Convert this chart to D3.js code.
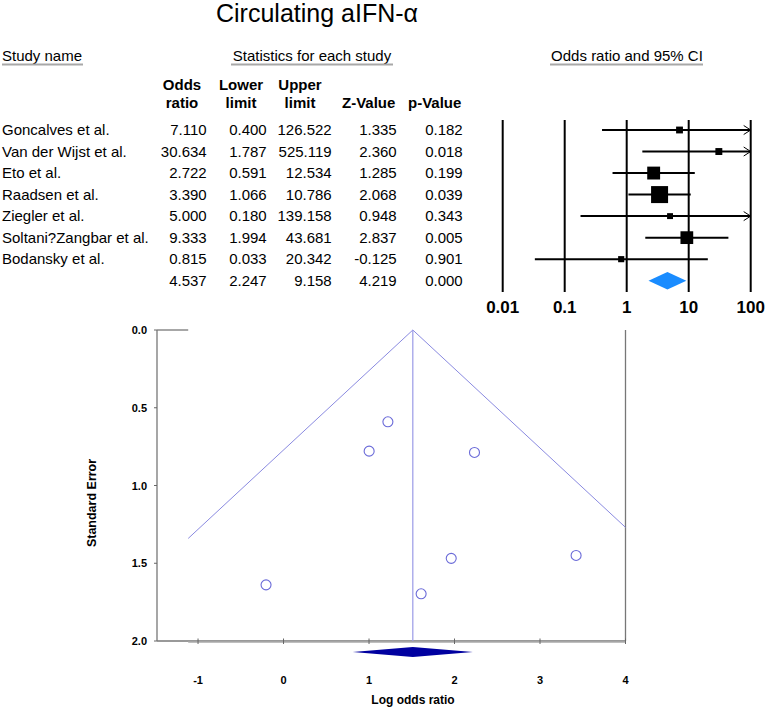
<!DOCTYPE html>
<html>
<head>
<meta charset="utf-8">
<script src="https://cdn.jsdelivr.net/npm/d3@7"></script>
<style>
  html, body { margin: 0; padding: 0; background: #fff; }
  svg { display: block; font-family: Arial, "Liberation Sans", sans-serif; }
</style>
</head>
<body>
<svg id="chart" width="765" height="708"></svg>
<script>
// ---------------- DATA ----------------
const studies = ["Goncalves et al.", "Van der Wijst et al.", "Eto et al.", "Raadsen et al.",
                 "Ziegler et al.", "Soltani?Zangbar et al.", "Bodansky et al."];
const oddsRatio  = [7.110, 30.634, 2.722, 3.390, 5.000, 9.333, 0.815];
const lowerLimit = [0.400, 1.787, 0.591, 1.066, 0.180, 1.994, 0.033];
const upperLimit = [126.522, 525.119, 12.534, 10.786, 139.158, 43.681, 20.342];
const zValue     = [1.335, 2.360, 1.285, 2.068, 0.948, 2.837, -0.125];
const pValue     = [0.182, 0.018, 0.199, 0.039, 0.343, 0.005, 0.901];
const summaryStats = [4.537, 2.247, 9.158, 4.219, 0.000]; // OR, lower, upper, Z, p
const forestTicks = [0.01, 0.1, 1, 10, 100];
const funnelXTicks = [-1, 0, 1, 2, 3, 4];
const funnelYTicks = [0.0, 0.5, 1.0, 1.5, 2.0];
const funnelXDomain = [-1.48, 4];
const funnelAxisExtent = [-1.115, 4];
const funnelYDomain = [0, 2];

// ---------------- SETUP ----------------
const svg = d3.select("#chart");
const fmt = v => v.toFixed(3);
const FS = 15;

// Title
svg.append("text").attr("x", 317).attr("y", 22).attr("text-anchor", "middle")
  .attr("font-size", 25).text("Circulating aIFN-α");

// Section headers with gray underlines
const headers = [
  {t: "Study name", x: 2, anchor: "start", u: [2, 83]},
  {t: "Statistics for each study", x: 312, anchor: "middle", u: [231, 393]},
  {t: "Odds ratio and 95% CI", x: 627, anchor: "middle", u: [550, 703]}
];
headers.forEach(h => {
  svg.append("text").attr("x", h.x).attr("y", 60.5).attr("text-anchor", h.anchor)
    .attr("font-size", FS).text(h.t);
  svg.append("line").attr("x1", h.u[0]).attr("x2", h.u[1]).attr("y1", 64.5).attr("y2", 64.5)
    .attr("stroke", "#a8a8a8").attr("stroke-width", 2);
});

// Column headers
const colRight = [206.7, 266.7, 331.7, 396.7, 462.7];
const colHeads = [
  {l1: "Odds", l2: "ratio", x: 182},
  {l1: "Lower", l2: "limit", x: 241},
  {l1: "Upper", l2: "limit", x: 300},
  {l1: "", l2: "Z-Value", x: 368.7},
  {l1: "", l2: "p-Value", x: 434.7}
];
colHeads.forEach(c => {
  if (c.l1) svg.append("text").attr("x", c.x).attr("y", 90).attr("text-anchor", "middle")
    .attr("font-size", FS).attr("font-weight", "bold").text(c.l1);
  svg.append("text").attr("x", c.x).attr("y", 107.5).attr("text-anchor", "middle")
    .attr("font-size", FS).attr("font-weight", "bold").text(c.l2);
});

// Row positions
const nRows = studies.length + 1;
const rowY = d3.scaleLinear().domain([0, nRows - 1]).range([130, 280.7]);

// Table rows
studies.forEach((s, i) => {
  const y = rowY(i) + 5.3;
  svg.append("text").attr("x", 2).attr("y", y).attr("font-size", FS).text(s);
  const vals = [oddsRatio[i], lowerLimit[i], upperLimit[i], zValue[i], pValue[i]];
  vals.forEach((v, j) => {
    svg.append("text").attr("x", colRight[j]).attr("y", y).attr("text-anchor", "end")
      .attr("font-size", FS).text(fmt(v));
  });
});
summaryStats.forEach((v, j) => {
  svg.append("text").attr("x", colRight[j]).attr("y", rowY(nRows - 1) + 5.3)
    .attr("text-anchor", "end").attr("font-size", FS).text(fmt(v));
});

// ---------------- FOREST PLOT ----------------
const fx = d3.scaleLog().domain([0.01, 100]).range([502.7, 750.7]);
const forest = svg.append("g");
forestTicks.forEach(t => {
  forest.append("line").attr("x1", fx(t)).attr("x2", fx(t)).attr("y1", 120).attr("y2", 292)
    .attr("stroke", "#000").attr("stroke-width", 2);
  forest.append("text").attr("x", fx(t)).attr("y", 313).attr("text-anchor", "middle")
    .attr("font-size", 17).attr("font-weight", "bold").text(String(t));
});

const z = 1.96;
const logOR = oddsRatio.map(v => Math.log(v));
const se = studies.map((_, i) => (Math.log(upperLimit[i]) - Math.log(lowerLimit[i])) / (2 * z));
const weight = se.map(s => 1 / (s * s));
const boxSize = d3.scaleSqrt().domain([0, d3.max(weight)]).range([0, 17]);

studies.forEach((s, i) => {
  const y = rowY(i);
  const lo = Math.max(lowerLimit[i], 0.01), hi = Math.min(upperLimit[i], 100);
  forest.append("line").attr("x1", fx(lo)).attr("x2", fx(hi)).attr("y1", y).attr("y2", y)
    .attr("stroke", "#000").attr("stroke-width", 2);
  if (upperLimit[i] > 100) {
    const ax = fx(100);
    forest.append("path").attr("d", `M${ax - 7},${y - 4.5}L${ax},${y}L${ax - 7},${y + 4.5}`)
      .attr("fill", "none").attr("stroke", "#000").attr("stroke-width", 1);
  }
  if (lowerLimit[i] < 0.01) {
    const ax = fx(0.01);
    forest.append("path").attr("d", `M${ax + 7},${y - 4.5}L${ax},${y}L${ax + 7},${y + 4.5}`)
      .attr("fill", "none").attr("stroke", "#000").attr("stroke-width", 1);
  }
  const b = boxSize(weight[i]);
  forest.append("rect").attr("x", fx(oddsRatio[i]) - b / 2).attr("y", y - b / 2)
    .attr("width", b).attr("height", b).attr("fill", "#000");
});
{
  const y = rowY(nRows - 1);
  const h = 8.8;
  forest.append("path")
    .attr("d", `M${fx(summaryStats[1])},${y}L${fx(summaryStats[0])},${y - h}L${fx(summaryStats[2])},${y}L${fx(summaryStats[0])},${y + h}Z`)
    .attr("fill", "#1a8cff");
}

// ---------------- FUNNEL PLOT ----------------
const gx = d3.scaleLinear().domain(funnelXDomain).range([157, 625.5]);
const gy = d3.scaleLinear().domain(funnelYDomain).range([330, 641]);
const funnel = svg.append("g");
const grayFrame = "#777";

// frame
funnel.append("line").attr("x1", gx(funnelXDomain[0])).attr("x2", gx(funnelXDomain[0]))
  .attr("y1", gy(0)).attr("y2", gy(2)).attr("stroke", grayFrame).attr("stroke-width", 1.3);
funnel.append("line").attr("x1", gx(funnelXDomain[1])).attr("x2", gx(funnelXDomain[1]))
  .attr("y1", gy(0)).attr("y2", gy(2)).attr("stroke", grayFrame).attr("stroke-width", 1.3);
funnel.append("line").attr("x1", gx(funnelXDomain[0])).attr("x2", gx(funnelXDomain[1]))
  .attr("y1", gy(2)).attr("y2", gy(2)).attr("stroke", grayFrame).attr("stroke-width", 1.3);
funnel.append("line").attr("x1", gx(funnelXDomain[0])).attr("x2", gx(funnelAxisExtent[0]))
  .attr("y1", gy(0)).attr("y2", gy(0)).attr("stroke", grayFrame).attr("stroke-width", 1.3);

// x-axis line and ticks
funnel.append("line").attr("x1", gx(funnelAxisExtent[0])).attr("x2", gx(funnelAxisExtent[1]))
  .attr("y1", gy(2) + 1).attr("y2", gy(2) + 1).attr("stroke", "#aaa").attr("stroke-width", 1.5);
funnelXTicks.forEach(t => {
  funnel.append("line").attr("x1", gx(t)).attr("x2", gx(t)).attr("y1", gy(2) - 2.5).attr("y2", gy(2) + 3)
    .attr("stroke", "#666").attr("stroke-width", 1);
  funnel.append("text").attr("x", gx(t)).attr("y", 684).attr("text-anchor", "middle")
    .attr("font-size", 11).attr("font-weight", "bold").text(String(t));
});
funnelYTicks.forEach(t => {
  funnel.append("line").attr("x1", gx(funnelXDomain[0]) - 3).attr("x2", gx(funnelXDomain[0]))
    .attr("y1", gy(t)).attr("y2", gy(t)).attr("stroke", "#666").attr("stroke-width", 1);
  funnel.append("text").attr("x", 147).attr("y", gy(t) + 4).attr("text-anchor", "end")
    .attr("font-size", 11).attr("font-weight", "bold").text(t.toFixed(1));
});

// axis titles
funnel.append("text").attr("transform", "translate(96,503) rotate(-90)").attr("text-anchor", "middle")
  .attr("font-size", 12.5).attr("font-weight", "bold").text("Standard Error");
funnel.append("text").attr("x", 413).attr("y", 704).attr("text-anchor", "middle")
  .attr("font-size", 12).attr("font-weight", "bold").text("Log odds ratio");

// funnel lines (clipped)
svg.append("defs").append("clipPath").attr("id", "fclip").append("rect")
  .attr("x", gx(funnelAxisExtent[0])).attr("y", gy(0) - 1)
  .attr("width", gx(funnelAxisExtent[1]) - gx(funnelAxisExtent[0]))
  .attr("height", gy(2) - gy(0) + 1);
const meanLog = Math.log(summaryStats[0]);
const fl = funnel.append("g").attr("clip-path", "url(#fclip)");
const maxSE = funnelYDomain[1];
fl.append("path")
  .attr("d", d3.line()([[gx(meanLog - z * maxSE), gy(maxSE)], [gx(meanLog), gy(0)], [gx(meanLog + z * maxSE), gy(maxSE)]]))
  .attr("fill", "none").attr("stroke", "#8a8ae0").attr("stroke-width", 1);
fl.append("line").attr("x1", gx(meanLog)).attr("x2", gx(meanLog)).attr("y1", gy(0)).attr("y2", gy(2))
  .attr("stroke", "#9a9ae6").attr("stroke-width", 1.2);

// study points
studies.forEach((s, i) => {
  funnel.append("circle").attr("cx", gx(logOR[i])).attr("cy", gy(se[i])).attr("r", 5)
    .attr("fill", "none").attr("stroke", "#6a6ad8").attr("stroke-width", 1.1);
});

// summary diamond
{
  const yc = 652, h = 5;
  const lo = gx(Math.log(summaryStats[1])), hi = gx(Math.log(summaryStats[2])), m = gx(meanLog);
  funnel.append("path").attr("d", `M${lo},${yc}L${m},${yc - h}L${hi},${yc}L${m},${yc + h}Z`)
    .attr("fill", "#0000a0");
}
</script>
</body>
</html>
